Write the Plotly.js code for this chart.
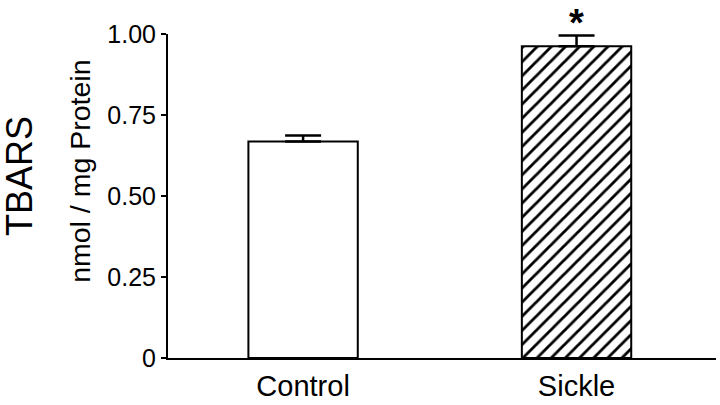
<!DOCTYPE html>
<html>
<head>
<meta charset="utf-8">
<script src="https://cdn.plot.ly/plotly-3.0.1.min.js"></script>
<style>html,body{margin:0;padding:0;background:#fff;}#chart{width:720px;height:405px;}</style>
</head>
<body>
<div id="chart"></div>
<script>
const categories = ['Control', 'Sickle'];
const means = [0.668, 0.962];
const errors = [0.019, 0.033];
const patternShapes = ['', '/'];
const yTickVals = [0, 0.25, 0.5, 0.75, 1.0];
const yTickText = ['0', '0.25', '0.50', '0.75', '1.00'];
const yTitle = 'TBARS';
const ySubTitle = 'nmol / mg Protein';
const sigMark = '*';

const font = 'Liberation Sans, Arial, Helvetica, sans-serif';

const trace = {
  type: 'bar',
  x: categories,
  y: means,
  width: 0.4,
  marker: {
    color: 'white',
    line: {color: 'black', width: 2},
    pattern: {shape: patternShapes, fgcolor: 'black', bgcolor: 'white', size: 10, solidity: 0.28, fillmode: 'replace'}
  },
  error_y: {type: 'data', array: errors, symmetric: false, arrayminus: [0, 0], color: 'black', thickness: 2.5, width: 18},
  hoverinfo: 'none'
};

const layout = {
  width: 720, height: 405,
  margin: {l: 168, r: 4, t: 34, b: 47},
  paper_bgcolor: 'white', plot_bgcolor: 'white',
  showlegend: false,
  font: {family: font, color: 'black'},
  xaxis: {
    type: 'category',
    range: [-0.494, 1.51],
    showline: true, linecolor: 'black', linewidth: 2,
    ticks: '', showgrid: false, zeroline: false,
    tickfont: {size: 29, family: font, color: 'black'},
    ticklabelstandoff: 1
  },
  yaxis: {
    range: [0, 1.0],
    tickvals: yTickVals, ticktext: yTickText,
    showline: true, linecolor: 'black', linewidth: 2,
    ticks: 'outside', ticklen: 5, tickwidth: 2, tickcolor: 'black',
    showgrid: false, zeroline: false,
    tickfont: {size: 25, family: font, color: 'black'},
    ticklabelstandoff: 0
  },
  annotations: [
    {xref: 'paper', yref: 'paper', x: -0.270, y: 0.562, text: yTitle, textangle: -90, showarrow: false,
     font: {size: 36, family: font, color: 'black'}, xanchor: 'center', yanchor: 'middle'},
    {xref: 'paper', yref: 'paper', x: -0.161, y: 0.577, text: ySubTitle, textangle: -90, showarrow: false,
     font: {size: 28.5, family: font, color: 'black'}, xanchor: 'center', yanchor: 'middle'},
    {xref: 'x', yref: 'paper', x: categories[1], y: 1.035, text: '<b>' + sigMark + '</b>', showarrow: false,
     font: {size: 38, family: font, color: 'black'}, xanchor: 'center', yanchor: 'middle'}
  ]
};

Plotly.newPlot('chart', [trace], layout, {staticPlot: true, displayModeBar: false});
</script>
</body>
</html>
